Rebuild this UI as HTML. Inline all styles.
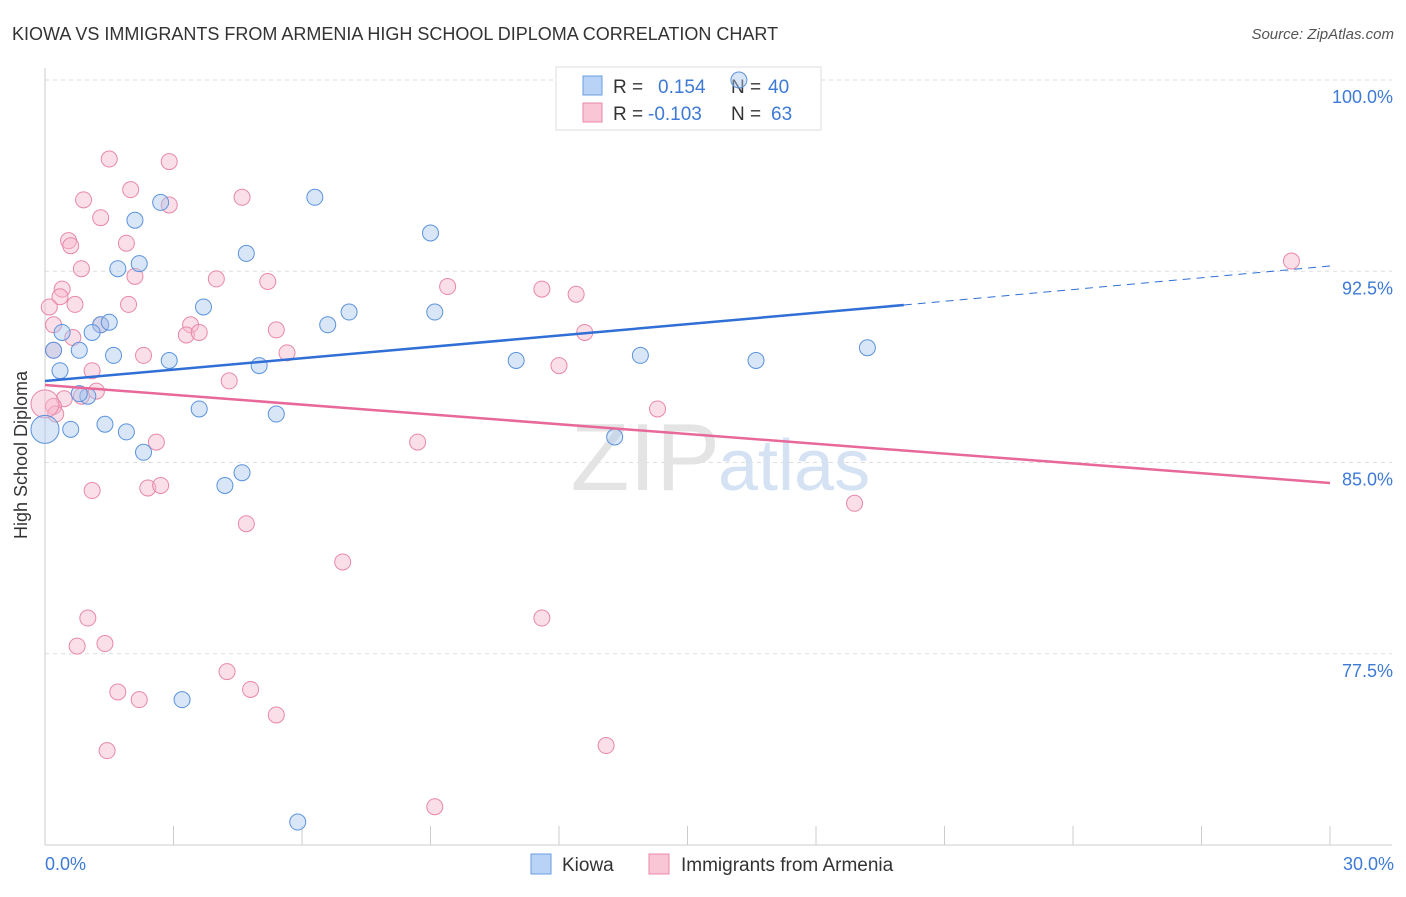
<!DOCTYPE html>
<html><head><meta charset="utf-8"><style>
body{margin:0;background:#fff;font-family:"Liberation Sans",sans-serif;}
svg text{font-family:"Liberation Sans",sans-serif;}
</style></head><body>
<svg id="chart" width="1406" height="892" xmlns="http://www.w3.org/2000/svg">
<text x="12" y="40" font-size="18" fill="#333">KIOWA VS IMMIGRANTS FROM ARMENIA HIGH SCHOOL DIPLOMA CORRELATION CHART</text>
<text x="1394" y="39" font-size="15" fill="#555" text-anchor="end" font-style="italic">Source: ZipAtlas.com</text>
<g id="grid"></g>
<text x="720" y="490" font-size="96" fill="#e4e4e4" text-anchor="end" font-family="Liberation Serif">ZIP</text>
<text x="718" y="490" font-size="72" fill="#d4e2f4">atlas</text>
<text x="27" y="455" font-size="18" fill="#333" text-anchor="middle" transform="rotate(-90 27 455)">High School Diploma</text>
<g>
<rect x="556" y="67" width="265" height="63" fill="#fff" stroke="#ddd"/>
<rect x="583" y="76" width="19" height="19" fill="#b8d3f5" stroke="#6a9ee0"/>
<rect x="583" y="103" width="19" height="19" fill="#f9c6d6" stroke="#e888a8"/>
<text x="613" y="93" font-size="19" fill="#333">R =</text>
<text x="658" y="93" font-size="19" fill="#3d7ad6">0.154</text>
<text x="731" y="93" font-size="19" fill="#333">N =</text>
<text x="768" y="93" font-size="19" fill="#3d7ad6">40</text>
<text x="613" y="120" font-size="19" fill="#333">R =</text>
<text x="648" y="120" font-size="19" fill="#3d7ad6">-0.103</text>
<text x="731" y="120" font-size="19" fill="#333">N =</text>
<text x="771" y="120" font-size="19" fill="#3d7ad6">63</text>
</g>
<g id="marks"></g>
<g>
<rect x="531" y="854" width="20" height="20" fill="#b8d3f5" stroke="#6a9ee0"/>
<text x="562" y="871" font-size="19" fill="#333">Kiowa</text>
<rect x="649" y="854" width="20" height="20" fill="#f9c6d6" stroke="#e888a8"/>
<text x="681" y="871" font-size="19" fill="#333">Immigrants from Armenia</text>
</g>
<text x="45" y="870" font-size="18" fill="#3d7ad6">0.0%</text>
<text x="1394" y="870" font-size="18" fill="#3d7ad6" text-anchor="end">30.0%</text>
</svg>
<script>
const yTicks=[100,92.5,85,77.5];
const xTickVals=[0,3,6,9,12,15,18,21,24,27,30];
const blueX=[16.2,6.3,2.7,2.1,9.0,4.7,1.7,2.2,3.7,7.1,9.1,6.6,1.3,1.5,1.1,0.4,1.6,0.8,0.2,2.9,5.0,11.0,13.9,16.6,19.2,0.35,1.0,0.8,3.6,5.4,1.4,0.6,1.9,13.3,2.3,4.6,4.2,3.2,5.9,0.0];
const blueY=[100,95.4,95.2,94.5,94.0,93.2,92.6,92.8,91.1,90.9,90.9,90.4,90.4,90.5,90.1,90.1,89.2,89.4,89.4,89.0,88.8,89.0,89.2,89.0,89.5,88.6,87.6,87.7,87.1,86.9,86.5,86.3,86.2,86.0,85.4,84.6,84.1,75.7,70.9,86.3];
const pinkX=[1.5,2.9,2.0,0.9,2.9,4.6,1.3,0.55,0.6,1.9,0.85,2.1,4.0,5.2,9.4,11.6,12.4,0.4,0.35,0.7,1.95,0.1,0.2,3.4,3.3,3.6,5.4,1.3,0.65,0.2,2.3,5.65,12.6,12.0,1.1,4.3,1.2,0.45,0.85,0.2,0.25,14.3,8.7,2.6,1.1,2.4,2.7,4.7,18.9,6.95,11.6,1.0,0.75,1.4,4.25,1.7,4.8,2.2,5.4,1.45,13.1,9.1,29.1,0.0];
const pinkY=[96.9,96.8,95.7,95.3,95.1,95.4,94.6,93.7,93.5,93.6,92.6,92.3,92.2,92.1,91.9,91.8,91.6,91.8,91.5,91.2,91.2,91.1,90.4,90.4,90.0,90.1,90.2,90.4,89.9,89.4,89.2,89.3,90.1,88.8,88.6,88.2,87.8,87.5,87.6,87.2,86.9,87.1,85.8,85.8,83.9,84.0,84.1,82.6,83.4,81.1,78.9,78.9,77.8,77.9,76.8,76.0,76.1,75.7,75.1,73.7,73.9,71.5,92.9,87.3];
const X0=45,X1=1330,Y100=80,PPY=25.5;
const sx=v=>X0+(v/30)*(X1-X0);
const sy=v=>Y100+(100-v)*PPY;
const NS="http://www.w3.org/2000/svg";
function mk(t,a,p){const e=document.createElementNS(NS,t);for(const k in a)e.setAttribute(k,a[k]);p.appendChild(e);return e;}
const grid=document.getElementById('grid'),marks=document.getElementById('marks');
yTicks.forEach(v=>{
 const l=mk('line',{x1:X0,x2:1392,y1:sy(v),y2:sy(v),stroke:'#ddd','stroke-dasharray':'4,4'},grid);
 
 
 const t=mk('text',{x:1393,y:sy(v)+23,'font-size':18,fill:'#3d7ad6','text-anchor':'end'},grid);
 t.textContent=v.toFixed(1)+'%';
 
 
});
const ax=mk('line',{x1:X0,x2:X0,y1:68,y2:845,stroke:'#ccc'},grid);


const bx=mk('line',{x1:X0,x2:1392,y1:845,y2:845,stroke:'#ccc'},grid);


xTickVals.forEach(v=>{
 const l=mk('line',{x1:sx(v),x2:sx(v),y1:826,y2:845,stroke:'#ccc'},grid);
 
 
});
function pts(xs,ys,fill,stroke,name){
 xs.forEach((x,i)=>{
  const r=(x===0)?14:8;
  const c=mk('circle',{cx:sx(x),cy:sy(ys[i]),r:r,fill:fill,'fill-opacity':0.45,stroke:stroke,'stroke-width':1},marks);
  
  
 });
}
pts(pinkX,pinkY,'#f7b8cb','#e888a8','armenia-point');
pts(blueX,blueY,'#a9c8f0','#5b93dc','kiowa-point');
let l=mk('line',{x1:sx(0),y1:381,x2:sx(20.05),y2:305,stroke:'#2f6fd6','stroke-width':2.5},marks);


l=mk('line',{x1:sx(20.05),y1:305,x2:sx(30),y2:266,stroke:'#2f6fd6','stroke-width':1,'stroke-dasharray':'8,6'},marks);


l=mk('line',{x1:sx(0),y1:385,x2:sx(30),y2:483,stroke:'#e8689a','stroke-width':2.5},marks);


</script>
</body></html>
